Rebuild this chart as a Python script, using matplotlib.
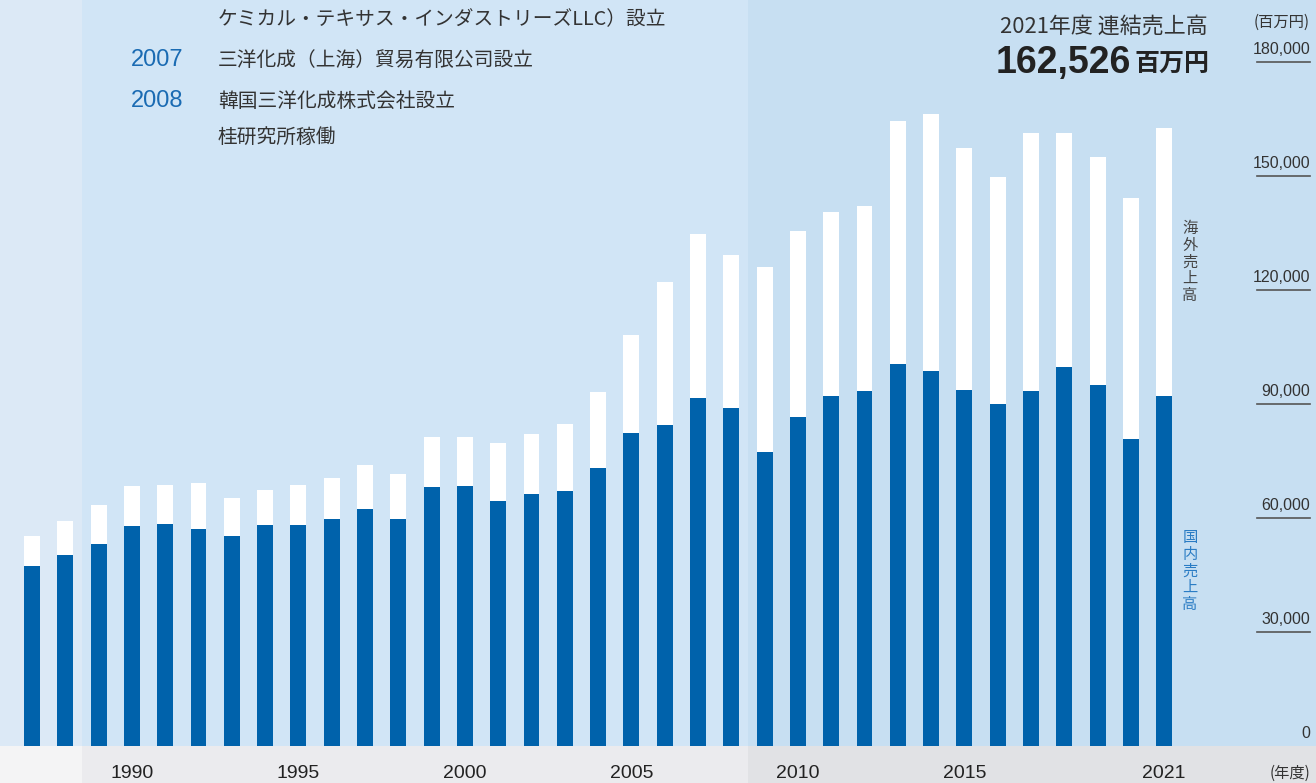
import numpy as np
import matplotlib
matplotlib.use("Agg")
import matplotlib.pyplot as plt
from matplotlib.transforms import blended_transform_factory

plt.rcParams['font.family'] = ['Noto Sans CJK JP', 'DejaVu Sans']

# data (百万円)
years = list(range(1987, 2022))
total = [55300, 59200, 63400, 68400, 68700, 69200, 65300, 67400, 68700, 70500,
         73900, 71600, 81300, 81300, 79700, 82100, 84700, 93200, 108200, 122100,
         134700, 129200, 126100, 135500, 140500, 142100, 164500, 166300, 157400, 149700,
         161300, 161300, 155000, 144200, 162526]
domestic = [47400, 50300, 53200, 57900, 58400, 57100, 55300, 58200, 58200, 59700,
            62400, 59700, 68200, 68400, 64500, 66300, 67100, 73200, 82400, 84500,
            91600, 88900, 77400, 86600, 92100, 93400, 100500, 98700, 93700, 90000,
            93400, 99700, 95000, 80800, 92100]
overseas = [t - d for t, d in zip(total, domestic)]
xtick_years = [1990, 1995, 2000, 2005, 2010, 2015, 2021]
ytick_vals = [0, 30000, 60000, 90000, 120000, 150000, 180000]
ytick_labels = ['0', '30,000', '60,000', '90,000', '120,000', '150,000', '180,000']
events = [('', 'ケミカル・テキサス・インダストリーズLLC）設立'),
          ('2007', '三洋化成（上海）貿易有限公司設立'),
          ('2008', '韓国三洋化成株式会社設立'),
          ('', '桂研究所稼働')]

BLUE = '#0062ab'
TXT = '#333333'
W, H = 1316, 783
xmin = 1987 - 32 / 33.3
xmax = xmin + W / 33.3
base = 746

fig = plt.figure(figsize=(W / 100, H / 100), dpi=100)
ax = fig.add_axes([0, (H - base) / H, 1, base / H])
ax.set_xlim(xmin, xmax)
ax.set_ylim(0, base / 3.8 * 1000)
ax.axis('off')
ax.axvspan(xmin, 1988.5, color='#dce9f6', lw=0)
ax.axvspan(1988.5, 2008.5, color='#d1e5f6', lw=0)
ax.axvspan(2008.5, xmax, color='#c7dff2', lw=0)

ax.bar(years, domestic, width=0.48, color=BLUE, lw=0)
ax.bar(years, overseas, width=0.48, bottom=domestic, color='white', lw=0)

# y axis labels with underlines
tr = blended_transform_factory(ax.transAxes, ax.transData)
sans = ['Liberation Sans', 'DejaVu Sans']
for v, lab in zip(ytick_vals, ytick_labels):
    ax.text(1310 / W, v + 1300, lab, transform=tr, ha='right', va='bottom',
            fontsize=11.5, color=TXT, family=sans)
    if v > 0:
        ax.plot([1257 / W, 1310 / W], [v, v], transform=tr, color='#555555', lw=1.2)
fig.text(1310 / W, 1 - 22 / H, '(百万円)', ha='right', va='center', fontsize=11, color=TXT)

# side labels
fig.text(1190 / W, 1 - 262 / H, '\n'.join('海外売上高'), ha='center', va='center',
         fontsize=11, color='#444444', linespacing=0.98)
fig.text(1190 / W, 1 - 571 / H, '\n'.join('国内売上高'), ha='center', va='center',
         fontsize=11, color='#2a7cc4', linespacing=0.98)

# header text
fig.text(1208 / W, 1 - 27 / H, '2021年度 連結売上高', ha='right', va='center',
         fontsize=15.8, color=TXT)
fig.text(1131 / W, 1 - 63 / H, '162,526', ha='right', va='center', fontsize=27,
         fontweight='bold', color='#222222', family=sans)
fig.text(1209 / W, 1 - 64 / H, '百万円', ha='right', va='center', fontsize=18,
         fontweight='bold', color='#222222')

# events
ev_y = [20, 60, 101, 137]
for (yr, txt), yy in zip(events, ev_y):
    if yr:
        fig.text(183 / W, 1 - yy / H, yr, ha='right', va='center', fontsize=17,
                 color='#1a6bb3', family=sans)
    fig.text(218 / W, 1 - yy / H, txt, ha='left', va='center', fontsize=14.2, color=TXT)

# bottom band
bx = fig.add_axes([0, 0, 1, (H - base) / H])
bx.set_xlim(xmin, xmax)
bx.set_ylim(0, 1)
bx.axis('off')
bx.axvspan(xmin, 1988.5, color='#f4f4f5', lw=0)
bx.axvspan(1988.5, 2008.5, color='#ebebee', lw=0)
bx.axvspan(2008.5, xmax, color='#e1e2e5', lw=0)
for y in xtick_years:
    bx.text(y, 0.27, str(y), ha='center', va='center', fontsize=14, color='#222222',
            family=sans)
bx.text(1310 / W, 0.27, '(年度)', transform=bx.transAxes, ha='right', va='center',
        fontsize=11, color=TXT)

fig.savefig('out.png', dpi=100)
